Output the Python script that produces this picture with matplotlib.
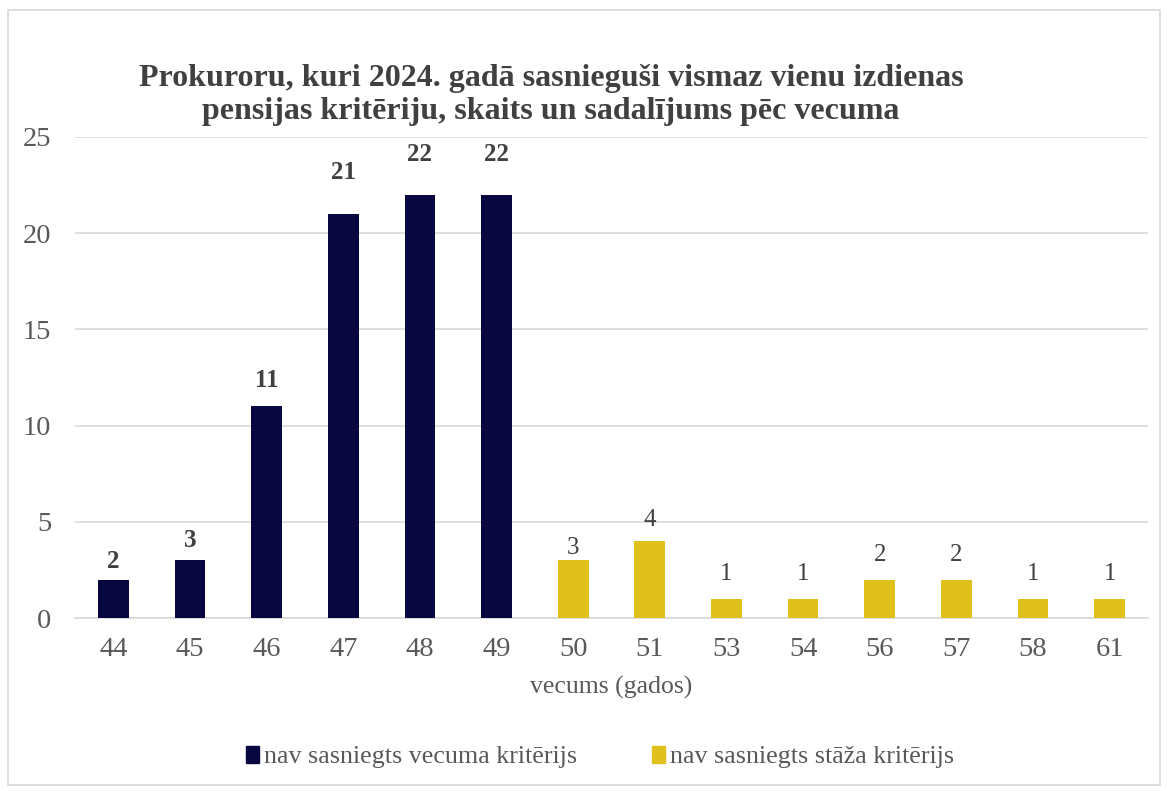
import matplotlib.pyplot as plt
from matplotlib.patches import Rectangle, Patch
import numpy as np

plt.rcParams['font.family'] = ['Liberation Serif', 'DejaVu Serif']

# ages on the x axis and number of prosecutors per age
ages = ["44", "45", "46", "47", "48", "49", "50", "51", "53", "54", "56", "57", "58", "61"]
age_not_reached = [2, 3, 11, 21, 22, 22, None, None, None, None, None, None, None, None]
service_not_reached = [None, None, None, None, None, None, 3, 4, 1, 1, 2, 2, 1, 1]

# space between bar top and its value label, in pixels (labels were nudged by hand)
label_gap = [12, 13, 19, 35, 34, 34, 6, 15, 19, 19, 19, 19, 19, 19]

NAVY = "#08073F"
YELLOW = "#E0C11C"
GRID = "#D9D9D9"
TEXT = "#595959"

fig = plt.figure(figsize=(11.67, 7.91), dpi=100)
ax = fig.add_axes([75 / 1167, 1 - 618 / 791, (1148 - 75) / 1167, (618 - 137) / 791])

# thin border around the whole chart area
fig.patches.append(Rectangle((8 / 1167, 1 - 785 / 791), 1152 / 1167, 775 / 791,
                             transform=fig.transFigure, fill=False,
                             edgecolor=GRID, linewidth=1.2))

x = np.arange(len(ages))
width = 0.4

for i, v in enumerate(age_not_reached):
    if v is None:
        continue
    ax.bar(x[i], v, width, color=NAVY, zorder=3)
    ax.annotate(str(v), (x[i], v), xytext=(0, label_gap[i] * 0.72),
                textcoords="offset points", ha="center", va="baseline",
                fontsize=18, fontweight="bold", color="#404040")

for i, v in enumerate(service_not_reached):
    if v is None:
        continue
    ax.bar(x[i], v, width, color=YELLOW, zorder=3)
    ax.annotate(str(v), (x[i], v), xytext=(0, label_gap[i] * 0.72),
                textcoords="offset points", ha="center", va="baseline",
                fontsize=18, color="#404040")

ax.set_xlim(-0.5, len(ages) - 0.5)
ax.set_ylim(0, 25)
ax.set_yticks(range(0, 26, 5))
ax.set_xticks(x)
ax.set_xticklabels(ages)
ax.tick_params(axis="both", length=0, labelsize=20.5, labelcolor=TEXT)
ax.tick_params(axis="x", pad=14)
ax.tick_params(axis="y", pad=17)
ax.grid(axis="y", color=GRID, linewidth=1.2, zorder=0)
for side in ["top", "right", "left"]:
    ax.spines[side].set_visible(False)
ax.spines["bottom"].set_color(GRID)
ax.spines["bottom"].set_linewidth(1.2)

ax.set_xlabel("vecums (gados)", fontsize=18.5, color=TEXT, labelpad=10)

fig.text(551 / 1167, 1 - 95 / 791,
         "Prokuroru, kuri 2024. gadā sasnieguši vismaz vienu izdienas\n"
         "pensijas kritēriju, skaits un sadalījums pēc vecuma",
         ha="center", va="center", fontsize=23, fontweight="bold",
         color="#404040", linespacing=1.15)

handles = [Patch(color=NAVY, label="nav sasniegts vecuma kritērijs"),
           Patch(color=YELLOW, label="nav sasniegts stāža kritērijs")]
fig.legend(handles=handles, loc="center", bbox_to_anchor=(600 / 1167, 1 - 757 / 791),
           ncol=2, frameon=False, fontsize=18.7, labelcolor=TEXT,
           handlelength=0.5, handleheight=0.65, handletextpad=0.2, columnspacing=2.9)

fig.savefig("out.png", dpi=100)
